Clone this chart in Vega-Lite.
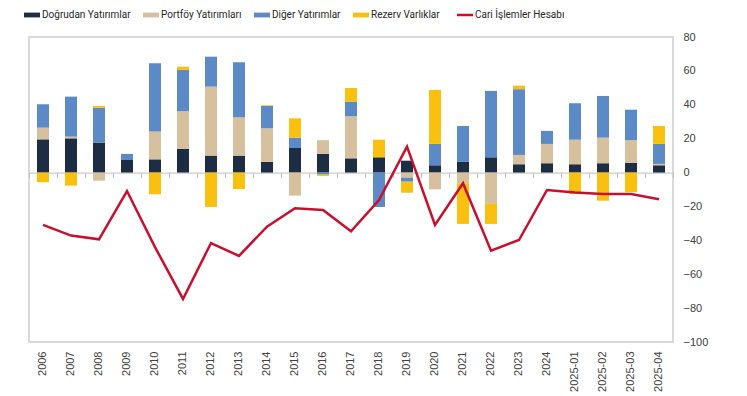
{
  "$schema": "https://vega.github.io/schema/vega-lite/v6.json",
  "width": 644,
  "height": 305,
  "autosize": {"type": "none"},
  "padding": {"left": 29, "top": 37, "right": 74, "bottom": 54},
  "config": {
    "view": {"stroke": "#d9d9d9", "strokeWidth": 2},
    "font": "Liberation Sans",
    "axis": {"labelFont": "Liberation Sans", "labelFontSize": 11, "labelColor": "#404040", "grid": false, "title": null}
  },
  "datasets": {
    "bars": [
      {"period": "2006", "type": "Doğrudan Yatırımlar", "k": 1, "value": 19.6},
      {"period": "2006", "type": "Portföy Yatırımları", "k": 2, "value": 6.9},
      {"period": "2006", "type": "Diğer Yatırımlar", "k": 3, "value": 13.8},
      {"period": "2006", "type": "Rezerv Varlıklar", "k": 4, "value": -5.7},
      {"period": "2007", "type": "Doğrudan Yatırımlar", "k": 1, "value": 20.2},
      {"period": "2007", "type": "Portföy Yatırımları", "k": 2, "value": 1.0},
      {"period": "2007", "type": "Diğer Yatırımlar", "k": 3, "value": 23.6},
      {"period": "2007", "type": "Rezerv Varlıklar", "k": 4, "value": -7.7},
      {"period": "2008", "type": "Doğrudan Yatırımlar", "k": 1, "value": 17.7},
      {"period": "2008", "type": "Portföy Yatırımları", "k": 2, "value": -4.8},
      {"period": "2008", "type": "Diğer Yatırımlar", "k": 3, "value": 20.6},
      {"period": "2008", "type": "Rezerv Varlıklar", "k": 4, "value": 1.0},
      {"period": "2009", "type": "Doğrudan Yatırımlar", "k": 1, "value": 7.4},
      {"period": "2009", "type": "Portföy Yatırımları", "k": 2, "value": 0},
      {"period": "2009", "type": "Diğer Yatırımlar", "k": 3, "value": 3.6},
      {"period": "2009", "type": "Rezerv Varlıklar", "k": 4, "value": 0},
      {"period": "2010", "type": "Doğrudan Yatırımlar", "k": 1, "value": 7.8},
      {"period": "2010", "type": "Portföy Yatırımları", "k": 2, "value": 16.4},
      {"period": "2010", "type": "Diğer Yatırımlar", "k": 3, "value": 40.3},
      {"period": "2010", "type": "Rezerv Varlıklar", "k": 4, "value": -12.8},
      {"period": "2011", "type": "Doğrudan Yatırımlar", "k": 1, "value": 13.9},
      {"period": "2011", "type": "Portföy Yatırımları", "k": 2, "value": 22.3},
      {"period": "2011", "type": "Diğer Yatırımlar", "k": 3, "value": 24.4},
      {"period": "2011", "type": "Rezerv Varlıklar", "k": 4, "value": 1.9},
      {"period": "2012", "type": "Doğrudan Yatırımlar", "k": 1, "value": 10.0},
      {"period": "2012", "type": "Portföy Yatırımları", "k": 2, "value": 40.7},
      {"period": "2012", "type": "Diğer Yatırımlar", "k": 3, "value": 17.7},
      {"period": "2012", "type": "Rezerv Varlıklar", "k": 4, "value": -20.3},
      {"period": "2013", "type": "Doğrudan Yatırımlar", "k": 1, "value": 10.0},
      {"period": "2013", "type": "Portföy Yatırımları", "k": 2, "value": 22.6},
      {"period": "2013", "type": "Diğer Yatırımlar", "k": 3, "value": 32.5},
      {"period": "2013", "type": "Rezerv Varlıklar", "k": 4, "value": -9.7},
      {"period": "2014", "type": "Doğrudan Yatırımlar", "k": 1, "value": 6.3},
      {"period": "2014", "type": "Portföy Yatırımları", "k": 2, "value": 19.8},
      {"period": "2014", "type": "Diğer Yatırımlar", "k": 3, "value": 13.2},
      {"period": "2014", "type": "Rezerv Varlıklar", "k": 4, "value": 0.4},
      {"period": "2015", "type": "Doğrudan Yatırımlar", "k": 1, "value": 14.5},
      {"period": "2015", "type": "Portföy Yatırımları", "k": 2, "value": -13.6},
      {"period": "2015", "type": "Diğer Yatırımlar", "k": 3, "value": 6.1},
      {"period": "2015", "type": "Rezerv Varlıklar", "k": 4, "value": 11.4},
      {"period": "2016", "type": "Doğrudan Yatırımlar", "k": 1, "value": 11.0},
      {"period": "2016", "type": "Portföy Yatırımları", "k": 2, "value": 8.1},
      {"period": "2016", "type": "Diğer Yatırımlar", "k": 3, "value": -1.2},
      {"period": "2016", "type": "Rezerv Varlıklar", "k": 4, "value": -0.8},
      {"period": "2017", "type": "Doğrudan Yatırımlar", "k": 1, "value": 8.4},
      {"period": "2017", "type": "Portföy Yatırımları", "k": 2, "value": 24.8},
      {"period": "2017", "type": "Diğer Yatırımlar", "k": 3, "value": 8.7},
      {"period": "2017", "type": "Rezerv Varlıklar", "k": 4, "value": 8.0},
      {"period": "2018", "type": "Doğrudan Yatırımlar", "k": 1, "value": 9.0},
      {"period": "2018", "type": "Portföy Yatırımları", "k": 2, "value": 0},
      {"period": "2018", "type": "Diğer Yatırımlar", "k": 3, "value": -20.3},
      {"period": "2018", "type": "Rezerv Varlıklar", "k": 4, "value": 10.4},
      {"period": "2019", "type": "Doğrudan Yatırımlar", "k": 1, "value": 7.0},
      {"period": "2019", "type": "Portföy Yatırımları", "k": 2, "value": -3.0},
      {"period": "2019", "type": "Diğer Yatırımlar", "k": 3, "value": -2.4},
      {"period": "2019", "type": "Rezerv Varlıklar", "k": 4, "value": -6.5},
      {"period": "2020", "type": "Doğrudan Yatırımlar", "k": 1, "value": 4.3},
      {"period": "2020", "type": "Portföy Yatırımları", "k": 2, "value": -9.9},
      {"period": "2020", "type": "Diğer Yatırımlar", "k": 3, "value": 12.6},
      {"period": "2020", "type": "Rezerv Varlıklar", "k": 4, "value": 31.9},
      {"period": "2021", "type": "Doğrudan Yatırımlar", "k": 1, "value": 6.3},
      {"period": "2021", "type": "Portföy Yatırımları", "k": 2, "value": -6.3},
      {"period": "2021", "type": "Diğer Yatırımlar", "k": 3, "value": 21.2},
      {"period": "2021", "type": "Rezerv Varlıklar", "k": 4, "value": -24.0},
      {"period": "2022", "type": "Doğrudan Yatırımlar", "k": 1, "value": 9.0},
      {"period": "2022", "type": "Portföy Yatırımları", "k": 2, "value": -18.5},
      {"period": "2022", "type": "Diğer Yatırımlar", "k": 3, "value": 39.2},
      {"period": "2022", "type": "Rezerv Varlıklar", "k": 4, "value": -11.8},
      {"period": "2023", "type": "Doğrudan Yatırımlar", "k": 1, "value": 4.9},
      {"period": "2023", "type": "Portföy Yatırımları", "k": 2, "value": 5.5},
      {"period": "2023", "type": "Diğer Yatırımlar", "k": 3, "value": 38.8},
      {"period": "2023", "type": "Rezerv Varlıklar", "k": 4, "value": 2.1},
      {"period": "2024", "type": "Doğrudan Yatırımlar", "k": 1, "value": 5.5},
      {"period": "2024", "type": "Portföy Yatırımları", "k": 2, "value": 11.4},
      {"period": "2024", "type": "Diğer Yatırımlar", "k": 3, "value": 7.7},
      {"period": "2024", "type": "Rezerv Varlıklar", "k": 4, "value": 0},
      {"period": "2025-01", "type": "Doğrudan Yatırımlar", "k": 1, "value": 4.9},
      {"period": "2025-01", "type": "Portföy Yatırımları", "k": 2, "value": 14.5},
      {"period": "2025-01", "type": "Diğer Yatırımlar", "k": 3, "value": 21.5},
      {"period": "2025-01", "type": "Rezerv Varlıklar", "k": 4, "value": -12.6},
      {"period": "2025-02", "type": "Doğrudan Yatırımlar", "k": 1, "value": 5.5},
      {"period": "2025-02", "type": "Portföy Yatırımları", "k": 2, "value": 15.1},
      {"period": "2025-02", "type": "Diğer Yatırımlar", "k": 3, "value": 24.6},
      {"period": "2025-02", "type": "Rezerv Varlıklar", "k": 4, "value": -16.6},
      {"period": "2025-03", "type": "Doğrudan Yatırımlar", "k": 1, "value": 5.8},
      {"period": "2025-03", "type": "Portföy Yatırımları", "k": 2, "value": 13.3},
      {"period": "2025-03", "type": "Diğer Yatırımlar", "k": 3, "value": 18.0},
      {"period": "2025-03", "type": "Rezerv Varlıklar", "k": 4, "value": -11.5},
      {"period": "2025-04", "type": "Doğrudan Yatırımlar", "k": 1, "value": 4.3},
      {"period": "2025-04", "type": "Portföy Yatırımları", "k": 2, "value": 0.8},
      {"period": "2025-04", "type": "Diğer Yatırımlar", "k": 3, "value": 11.8},
      {"period": "2025-04", "type": "Rezerv Varlıklar", "k": 4, "value": 10.6}
    ],
    "line": [
      {"period": "2006", "value": -30.9},
      {"period": "2007", "value": -37.2},
      {"period": "2008", "value": -39.4},
      {"period": "2009", "value": -10.9},
      {"period": "2010", "value": -44.0},
      {"period": "2011", "value": -74.6},
      {"period": "2012", "value": -41.6},
      {"period": "2013", "value": -49.2},
      {"period": "2014", "value": -31.9},
      {"period": "2015", "value": -21.1},
      {"period": "2016", "value": -22.1},
      {"period": "2017", "value": -34.7},
      {"period": "2018", "value": -16.2},
      {"period": "2019", "value": 15.3},
      {"period": "2020", "value": -30.9},
      {"period": "2021", "value": -6.3},
      {"period": "2022", "value": -46.1},
      {"period": "2023", "value": -39.8},
      {"period": "2024", "value": -10.3},
      {"period": "2025-01", "value": -11.8},
      {"period": "2025-02", "value": -12.6},
      {"period": "2025-03", "value": -12.6},
      {"period": "2025-04", "value": -15.8}
    ]
  },
  "resolve": {"axis": {"x": "independent", "y": "independent"}},
  "layer": [
    {
      "data": {"name": "bars"},
      "mark": {"type": "bar", "size": 12},
      "encoding": {
        "x": {
          "field": "period", "type": "ordinal",
          "scale": {"paddingInner": 0, "paddingOuter": 0},
          "axis": {"orient": "bottom", "labelAngle": -90, "ticks": false, "domain": false, "labelPadding": 9}
        },
        "y": {
          "field": "value", "type": "quantitative", "stack": "zero",
          "scale": {"domain": [-100, 80], "nice": false, "zero": false},
          "axis": {"orient": "right", "values": [-100, -80, -60, -40, -20, 0, 20, 40, 60, 80], "ticks": false, "domain": false, "labelPadding": 10, "labelAlign": "left"}
        },
        "color": {
          "field": "type", "type": "nominal",
          "scale": {
            "domain": ["Doğrudan Yatırımlar", "Portföy Yatırımları", "Diğer Yatırımlar", "Rezerv Varlıklar", "Cari İşlemler Hesabı"],
            "range": ["#1d2d44", "#d6c09d", "#5b8ac6", "#f9c00f", "#c8102e"]
          },
          "legend": {
            "title": null,
            "orient": "none",
            "legendX": -2,
            "legendY": -27,
            "direction": "horizontal",
            "labelFont": "Roboto, sans-serif",
            "labelFontSize": 10,
            "labelColor": "#262626",
            "labelOffset": 5,
            "columnPadding": 12,
            "symbolSize": 256,
            "encode": {
              "symbols": {
                "update": {
                  "shape": {"signal": "datum.label === 'Cari İşlemler Hesabı' ? 'M-1,0H1' : 'M-1,-0.3H1V0.3H-1Z'"},
                  "fill": {"signal": "scale('color', datum.value)"},
                  "stroke": {"signal": "scale('color', datum.value)"},
                  "strokeWidth": {"signal": "datum.label === 'Cari İşlemler Hesabı' ? 2.5 : 0"},
                  "opacity": {"value": 1},
                  "fillOpacity": {"value": 1}
                }
              }
            }
          }
        },
        "order": {"field": "k", "type": "quantitative"}
      }
    },
    {
      "data": {"name": "line"},
      "mark": {"type": "line", "color": "#c8102e", "strokeWidth": 2.5},
      "encoding": {
        "x": {
          "field": "period", "type": "ordinal",
          "axis": {"orient": "top", "offset": -135.6, "labels": false, "domain": true, "domainColor": "#bfbfbf", "domainWidth": 1, "ticks": true, "tickBand": "extent", "tickSize": -5, "tickColor": "#bfbfbf"}
        },
        "y": {"field": "value", "type": "quantitative", "axis": null},
        "color": {"datum": "Cari İşlemler Hesabı", "type": "nominal"}
      }
    }
  ]
}
